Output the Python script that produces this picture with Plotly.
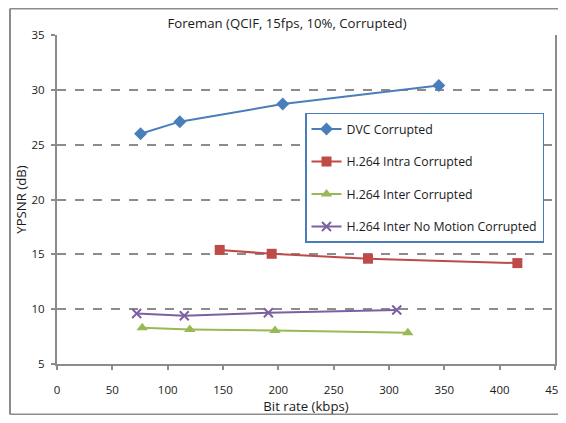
import plotly.graph_objects as go

# Data
dvc_x = [75.5, 111, 204, 345]
dvc_y = [26.0, 27.1, 28.7, 30.4]
intra_x = [147, 194, 281, 416]
intra_y = [15.4, 15.05, 14.6, 14.2]
inter_x = [77, 120, 197, 317]
inter_y = [8.3, 8.15, 8.05, 7.85]
nomo_x = [72, 115, 191, 307]
nomo_y = [9.6, 9.4, 9.67, 9.93]

title = "Foreman (QCIF, 15fps, 10%, Corrupted)"
x_title = "Bit rate (kbps)"
y_title = "YPSNR (dB)"
names = ["DVC Corrupted", "H.264 Intra Corrupted", "H.264 Inter Corrupted",
         "H.264 Inter No Motion Corrupted"]

FONT = "Open Sans"
TXT = "#1a1a1a"
fig = go.Figure()

series = [
    (dvc_x, dvc_y, names[0], "#4A7EBB", dict(symbol="diamond", size=10)),
    (intra_x, intra_y, names[1], "#BE4B48", dict(symbol="square", size=10)),
    (inter_x, inter_y, names[2], "#98B954", dict(symbol="triangle-up", size=10)),
    (nomo_x, nomo_y, names[3], "#7D60A0",
     dict(symbol="x-thin-open", size=9, line=dict(width=2, color="#7D60A0"))),
]
for i, (xs, ys, nm, col, mk) in enumerate(series):
    mk = dict(mk)
    mk.setdefault("color", col)
    fig.add_trace(go.Scatter(
        x=xs, y=ys, name=nm, mode="lines+markers",
        line=dict(color=col, width=2), marker=mk,
        legendgroup=f"g{i}",
    ))

H = 407
fig.update_layout(
    width=558, height=H,
    margin=dict(l=49, r=11, t=27, b=51, autoexpand=False),
    paper_bgcolor="white", plot_bgcolor="white",
    font=dict(family=FONT, size=12, color=TXT),
    title=dict(text=title, x=0.5, xanchor="center", y=1 - 15 / H, yanchor="middle",
               font=dict(family=FONT, size=13.2, color=TXT)),
    showlegend=True,
    legend=dict(
        x=0.498, y=0.763, xanchor="left", yanchor="top",
        bgcolor="white", bordercolor="#4A7EBB", borderwidth=1.5,
        font=dict(family=FONT, size=12.3, color=TXT),
        tracegroupgap=13.5, traceorder="grouped",
        itemwidth=30,
    ),
    xaxis=dict(
        range=[0, 450], dtick=50, tick0=0, automargin=False,
        showgrid=False, zeroline=False,
        showline=True, linecolor="#8C8C8C", linewidth=2,
        ticks="outside", ticklen=4, tickcolor="#8C8C8C", tickwidth=1.5,
        ticklabelstandoff=10, ticklabeloverflow="allow",
        title=dict(text=x_title, font=dict(family=FONT, size=13.2, color=TXT), standoff=3),
        tickfont=dict(family=FONT, size=11.5, color=TXT),
    ),
    yaxis=dict(
        range=[5, 35], dtick=5, tick0=5, automargin=False,
        showgrid=True, gridcolor="#8C8C8C", griddash="dash", gridwidth=1.5,
        zeroline=False,
        showline=True, linecolor="#8C8C8C", linewidth=2, mirror=True,
        ticks="outside", ticklen=4, tickcolor="#8C8C8C", tickwidth=1.5,
        ticklabelstandoff=4,
        title=dict(text=y_title, font=dict(family=FONT, size=13.2, color=TXT), standoff=2),
        tickfont=dict(family=FONT, size=11.5, color=TXT),
    ),
)

# Outer chart frame
FL, FT, FB, FR = -0.0944, 1.0805, -0.1535, 1.05
frame = dict(color="#8C8C8C", width=2)
fig.add_shape(type="line", xref="paper", yref="paper", x0=FL, x1=FR, y0=FT, y1=FT, line=frame)
fig.add_shape(type="line", xref="paper", yref="paper", x0=FL, x1=FL, y0=FT, y1=FB, line=frame)
fig.add_shape(type="line", xref="paper", yref="paper", x0=FL, x1=FR, y0=FB, y1=FB, line=frame)

fig.write_html("out.html")
